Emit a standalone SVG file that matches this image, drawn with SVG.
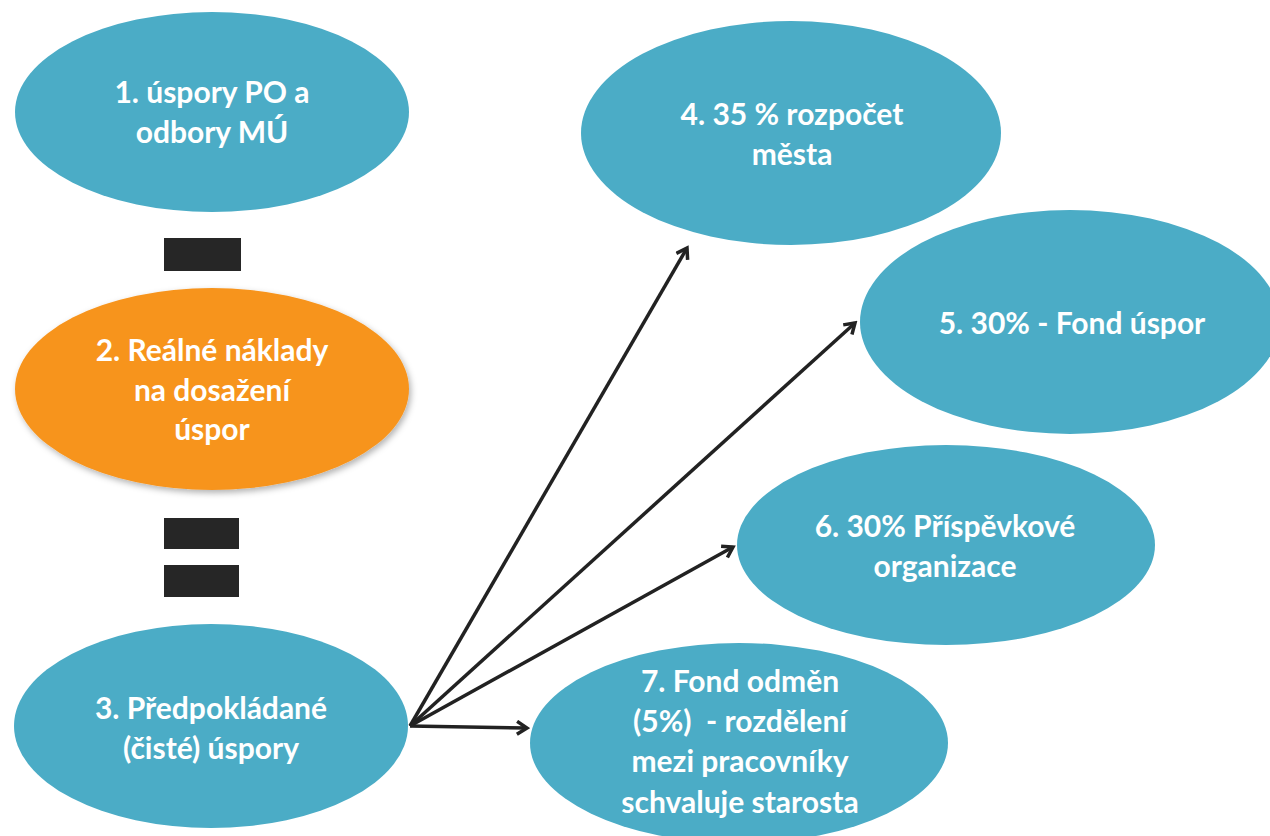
<svg xmlns="http://www.w3.org/2000/svg" width="1270" height="836" viewBox="0 0 1270 836">
<style>
.blue{fill:#4BACC6}
.orange{fill:#F7941D}
.bar{fill:#262626}
.t{font-family:Lato,"Open Sans","Liberation Sans",sans-serif;font-weight:700;font-size:30px;fill:#ffffff;text-anchor:middle}
.conn{stroke:#222222;stroke-width:3.5;fill:none;marker-end:url(#arr)}
</style>
<defs>
<marker id="arr" viewBox="0 0 16 16" refX="13" refY="8" markerWidth="16" markerHeight="16" markerUnits="userSpaceOnUse" orient="auto">
<polyline points="3,1.5 13,8 3,14.5" fill="none" stroke="#222222" stroke-width="3.5"/>
</marker>
<filter id="sh" x="-10%" y="-10%" width="120%" height="130%">
<feDropShadow dx="2" dy="3" stdDeviation="3" flood-color="#000" flood-opacity="0.3"/>
</filter>
</defs>
<rect width="1270" height="836" fill="#ffffff"/>
<g id="n1">
<ellipse class="blue" cx="212" cy="112" rx="197" ry="100"/>
<text class="t" x="212" y="103">1. úspory PO a</text>
<text class="t" x="212" y="143">odbory MÚ</text>
</g>
<g id="minus">
<rect class="bar" x="164" y="238" width="77" height="33"/>
</g>
<g id="n2">
<ellipse class="orange" cx="212" cy="389" rx="197" ry="101" filter="url(#sh)"/>
<text class="t" x="212" y="361">2. Reálné náklady</text>
<text class="t" x="212" y="401">na dosažení</text>
<text class="t" x="212" y="440">úspor</text>
</g>
<g id="equals">
<rect class="bar" x="164" y="518" width="75" height="31"/>
<rect class="bar" x="164" y="565" width="75" height="32"/>
</g>
<g id="n3">
<ellipse class="blue" cx="211" cy="726" rx="197" ry="102"/>
<text class="t" x="211" y="719">3. Předpokládané</text>
<text class="t" x="211" y="759">(čisté) úspory</text>
</g>
<g id="n4">
<ellipse class="blue" cx="791" cy="133" rx="210" ry="112"/>
<text class="t" x="792" y="125">4. 35 % rozpočet</text>
<text class="t" x="792" y="165">města</text>
</g>
<g id="n5">
<ellipse class="blue" cx="1070" cy="322" rx="210" ry="112"/>
<text class="t" x="1072" y="334">5. 30% - Fond úspor</text>
</g>
<g id="n6">
<ellipse class="blue" cx="946" cy="545" rx="209" ry="100"/>
<text class="t" x="945" y="537">6. 30% Příspěvkové</text>
<text class="t" x="945" y="577">organizace</text>
</g>
<g id="n7">
<ellipse class="blue" cx="739" cy="743" rx="209" ry="100"/>
<text class="t" x="740" y="692">7. Fond odměn</text>
<text class="t" x="740" y="732" xml:space="preserve">(5%)  - rozdělení</text>
<text class="t" x="740" y="772">mezi pracovníky</text>
<text class="t" x="740" y="813">schvaluje starosta</text>
</g>
<g id="connectors">
<line class="conn" x1="410" y1="726" x2="687" y2="248"/>
<line class="conn" x1="410" y1="726" x2="855" y2="323"/>
<line class="conn" x1="410" y1="726" x2="733" y2="547"/>
<line class="conn" x1="410" y1="726" x2="527" y2="728"/>
</g>
</svg>
